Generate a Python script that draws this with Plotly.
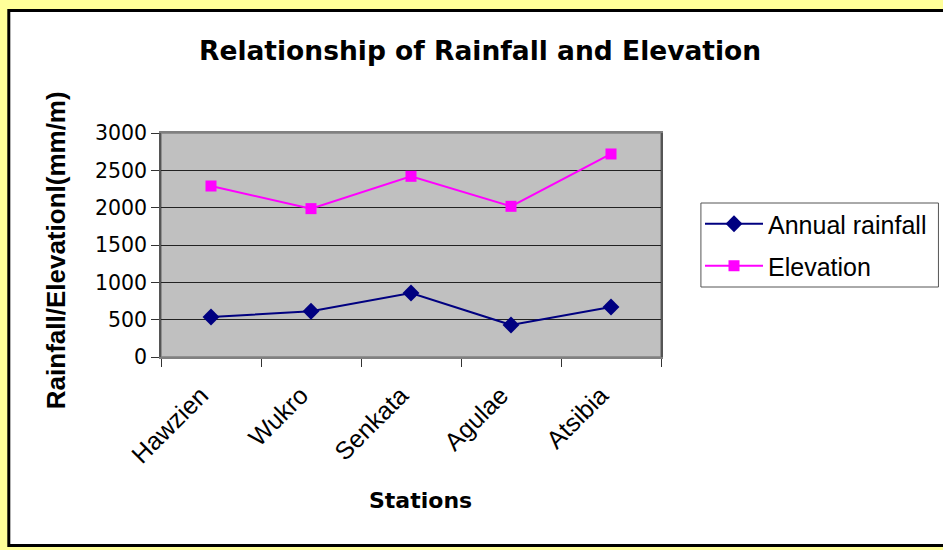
import plotly.graph_objects as go

# Station data
stations = ["Hawzien", "Wukro", "Senkata", "Agulae", "Atsibia"]
annual_rainfall = [536, 612, 857, 429, 670]
elevation = [2290, 1987, 2420, 2018, 2719]
y_ticks = [0, 500, 1000, 1500, 2000, 2500, 3000]

W, H = 943, 550
L, R, T, B = 161, 662, 133, 357  # plot area in pixels


def px(x):
    return (x - L) / (R - L)


def py(y):
    return (B - y) / (B - T)


ARIAL = "Liberation Sans, Arial, sans-serif"
WIDE = "DejaVu Sans, Verdana, sans-serif"

fig = go.Figure()
fig.add_trace(go.Scatter(
    x=stations, y=annual_rainfall, name="Annual rainfall",
    mode="lines+markers", legend="legend",
    line=dict(color="#000080", width=2),
    marker=dict(symbol="diamond", size=13, color="#000080"),
))
fig.add_trace(go.Scatter(
    x=stations, y=elevation, name="Elevation",
    mode="lines+markers", legend="legend2",
    line=dict(color="#FF00FF", width=2),
    marker=dict(symbol="square", size=11, color="#FF00FF"),
))

shapes = [
    # white chart area framed in black over the yellow page
    dict(type="rect", xref="paper", yref="paper", layer="below",
         x0=px(8.5), x1=px(950), y0=py(545.5), y1=py(10.5),
         fillcolor="white", line=dict(color="black", width=3)),
    # grey plot background
    dict(type="rect", xref="paper", yref="paper", layer="below",
         x0=0, x1=1, y0=0, y1=1,
         fillcolor="#C0C0C0", line=dict(color="#808080", width=1.5)),
    # legend frame
    dict(type="rect", xref="paper", yref="paper", layer="below",
         x0=px(702), x1=px(940), y0=py(287), y1=py(203),
         fillcolor="white", line=dict(color="#555555", width=1)),
]

annotations = [
    dict(text="<b>Relationship of Rainfall and Elevation</b>", xref="paper", yref="paper",
         x=px(481), y=py(50), showarrow=False, xanchor="center", yanchor="middle",
         font=dict(family=WIDE, size=26.5, color="black")),
    dict(text="<b>Rainfall/Elevationl(mm/m)</b>", xref="paper", yref="paper",
         x=px(56), y=py(250), showarrow=False, textangle=-90,
         xanchor="center", yanchor="middle",
         font=dict(family=ARIAL, size=26, color="black")),
    dict(text="<b>Stations</b>", xref="paper", yref="paper",
         x=px(421), y=py(500), showarrow=False, xanchor="center", yanchor="middle",
         font=dict(family=WIDE, size=22, color="black")),
]

legend_style = dict(
    xanchor="left", yanchor="middle",
    bgcolor="rgba(0,0,0,0)", borderwidth=0,
    font=dict(family=ARIAL, size=25, color="black"),
    itemwidth=58,
)

fig.update_layout(
    width=W, height=H,
    margin=dict(l=L, r=W - R, t=T, b=H - B, pad=0),
    paper_bgcolor="#FFFF99",
    plot_bgcolor="rgba(0,0,0,0)",
    shapes=shapes,
    annotations=annotations,
    font=dict(family=ARIAL, size=20, color="black"),
    showlegend=True,
    legend=dict(x=px(700), y=py(224), **legend_style),
    legend2=dict(x=px(700), y=py(266), **legend_style),
)

fig.update_xaxes(
    type="category", range=[-0.5, 4.5],
    tickson="boundaries", ticks="outside", ticklen=8, tickcolor="#333333",
    tickangle=-45, tickfont=dict(family=ARIAL, size=25, color="black"),
    ticklabelstandoff=12, ticklabelshift=-10,
    showgrid=False, showline=True, linecolor="#808080", linewidth=1.5,
    mirror=True, zeroline=False,
)
fig.update_yaxes(
    range=[0, 3000], tickvals=y_ticks, ticktext=[str(v) for v in y_ticks],
    ticks="outside", ticklen=8, tickcolor="#333333",
    tickfont=dict(family=WIDE, size=20.5, color="black"),
    showgrid=True, gridcolor="#222222", gridwidth=1,
    showline=True, linecolor="#555555", linewidth=1.5,
    mirror=True, zeroline=False,
)

fig.write_html("out.html")
